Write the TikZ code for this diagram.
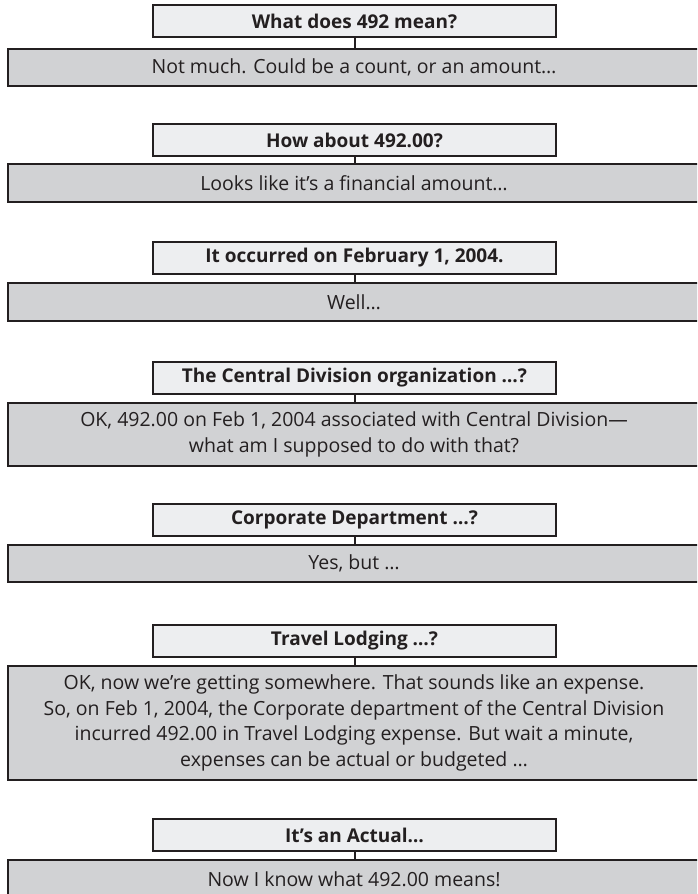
\documentclass[tikz,border=0pt]{standalone}
\usepackage{fontspec}
\setmainfont{Open Sans}
\usepackage{xcolor}
\usetikzlibrary{positioning}

\definecolor{qfill}{HTML}{EDEEF0}
\definecolor{afill}{HTML}{D1D2D4}
\definecolor{ink}{HTML}{231F20}

\begin{document}
\begin{tikzpicture}[
    x=1pt,y=-1pt,
    question/.style={draw=ink,line width=2pt,fill=qfill,text=ink,minimum width=403pt,minimum height=32pt,inner sep=0pt,font=\fontsize{19}{22}\selectfont\bfseries},
    answer/.style={draw=ink,line width=2pt,fill=afill,text=ink,minimum width=692pt,inner sep=0pt,align=center,font=\fontsize{19.5}{25.5}\selectfont},
    link/.style={draw=ink,line width=2pt}
]
\useasboundingbox (0,0) rectangle (697,894);
\clip (0,0) rectangle (697,894);

% --- Questions ---
\node[question] (q1) at (354.5,21)  {What does 492 mean?};
\node[question] (q2) at (354.5,140) {How about 492.00?};
\node[question] (q3) at (354.5,258) {It occurred on February 1, 2004.};
\node[question] (q4) at (354.5,378) {The Central Division organization …?};
\node[question] (q5) at (354.5,520) {Corporate Department …?};
\node[question] (q6) at (354.5,641) {Travel Lodging …?};
\node[question] (q7) at (354.5,835) {It’s an Actual…};

% --- Answers ---
\node[answer,minimum height=37pt]  (a1) at (354,67)    {Not much. Could be a count, or an amount…};
\node[answer,minimum height=38pt]  (a2) at (354,183)   {Looks like it’s a financial amount…};
\node[answer,minimum height=38pt]  (a3) at (354,302)   {Well…};
\node[answer,minimum height=63pt]  (a4) at (354,434.5) {OK, 492.00 on Feb 1, 2004 associated with Central Division—\\what am I supposed to do with that?};
\node[answer,minimum height=37pt]  (a5) at (354,563.5) {Yes, but …};
\node[answer,minimum height=114pt] (a6) at (354,723)   {OK, now we’re getting somewhere. That sounds like an expense.\\So, on Feb 1, 2004, the Corporate department of the Central Division\\incurred 492.00 in Travel Lodging expense. But wait a minute,\\expenses can be actual or budgeted …};
\node[answer,minimum height=38pt]  (a7) at (354,879)   {Now I know what 492.00 means!};

% --- Connectors ---
\foreach \i in {1,...,7}
  \draw[link] (q\i.south) -- (q\i.south |- a\i.north);
\end{tikzpicture}
\end{document}
